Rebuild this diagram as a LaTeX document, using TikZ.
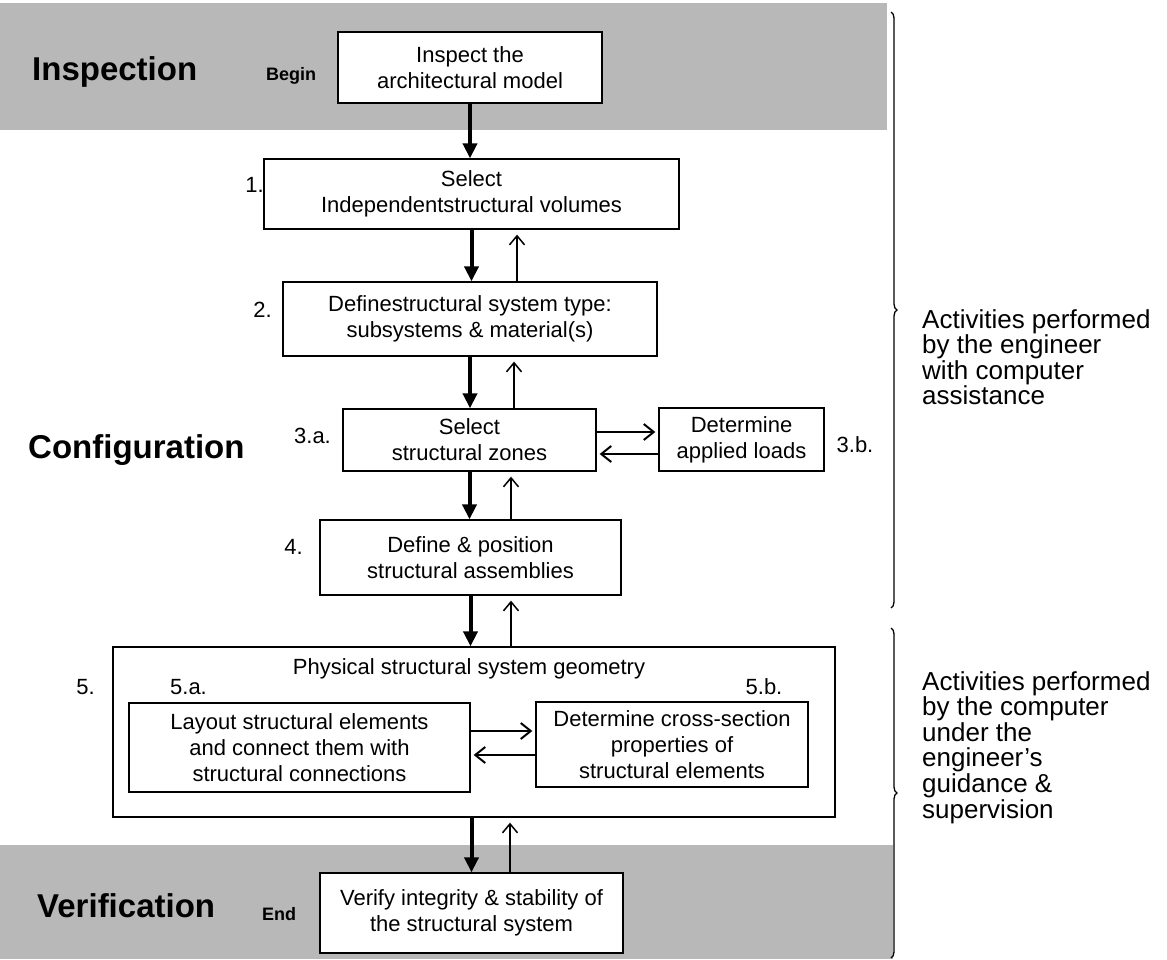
\documentclass[tikz,border=0pt]{standalone}
\usepackage{fontspec}
\setmainfont{Liberation Sans}
\usetikzlibrary{arrows.meta,decorations.pathreplacing}

\begin{document}
\begin{tikzpicture}[x=1pt,y=-1pt,
	stepbox/.style={draw, fill=white, line width=1.3pt, inner sep=2pt, align=center, font=\fontsize{22}{26}\selectfont},
	numlbl/.style={font=\fontsize{22}{26}\selectfont, inner sep=0pt},
	phase/.style={font=\fontsize{33}{40}\selectfont\bfseries, inner sep=0pt, anchor=base west},
	endpt/.style={font=\fontsize{18}{20}\selectfont\bfseries, inner sep=0pt, anchor=base west},
	note/.style={font=\fontsize{26}{25.6}\selectfont, align=left, inner sep=0pt, anchor=north west},
	fwd/.style={line width=4pt, -{Triangle[length=15pt,width=14pt]}},
	back/.style={line width=1.5pt, -{Straight Barb[length=9pt,width=15pt]}, shorten >=5pt},
	side/.style={line width=2pt, -{Straight Barb[length=10pt,width=16pt]}, shorten >=3pt},
	band/.style={fill=black!28},
	bracket/.style={line width=1.3pt, decorate, decoration={brace, amplitude=6pt}}]
	\useasboundingbox (0,0) rectangle (1167,959);
	% shaded phases
	\fill[band] (0,3) rectangle (887,130);
	\fill[band] (0,845) rectangle (893,959);

	\node[phase] (insphase) at (32,80) {Inspection};
	\node[phase] (confphase) at (28,458) {Configuration};
	\node[phase] (verphase) at (37,917) {Verification};
	\node[endpt] (begin) at (266,80) {Begin};
	\node[endpt] (end) at (262,920) {End};

	% steps
	\node[stepbox, minimum width=264pt, minimum height=71pt] (insp) at (470,67.5) {Inspect the\\architectural model};
	\node[stepbox, minimum width=415pt, minimum height=70pt] (sel1) at (471.5,194) {Select\\Independentstructural volumes};
	\node[stepbox, minimum width=374pt, minimum height=74pt] (def2) at (470,319) {Definestructural system type:\\subsystems \& material(s)};
	\node[stepbox, minimum width=253pt, minimum height=62pt] (zone3) at (469.5,440) {Select\\structural zones};
	\node[stepbox, minimum width=165pt, minimum height=63pt] (load3) at (741.5,439.5) {Determine\\applied loads};
	\node[stepbox, minimum width=301pt, minimum height=75pt] (asm4) at (470.5,557.5) {Define \& position\\structural assemblies};
	\node[stepbox, minimum width=722pt, minimum height=170pt] (geo5) at (474,732) {};
	\node[numlbl] (geotitle) at (469,669) {Physical structural system geometry};
	\node[stepbox, minimum width=341pt, minimum height=89pt] (lay5a) at (299.5,747.5) {Layout structural elements\\and connect them with\\structural connections};
	\node[stepbox, minimum width=272pt, minimum height=85pt] (sec5b) at (672,744.5) {Determine cross-section\\properties of\\structural elements};
	\node[stepbox, minimum width=303pt, minimum height=80pt] (ver) at (471.5,913) {Verify integrity \& stability of\\the structural system};

	% step numbers
	\node[numlbl] (n1) at (254.5,185) {1.};
	\node[numlbl] (n2) at (262.5,310) {2.};
	\node[numlbl] (n3a) at (312.5,436) {3.a.};
	\node[numlbl] (n3b) at (855,445) {3.b.};
	\node[numlbl] (n4) at (293.5,547) {4.};
	\node[numlbl] (n5) at (85.5,687) {5.};
	\node[numlbl] (n5a) at (188.5,687) {5.a.};
	\node[numlbl] (n5b) at (764,687) {5.b.};

	% forward flow
	\draw[fwd] (insp.south) -- (insp.south |- sel1.north);
	\draw[fwd] (sel1.south) -- (sel1.south |- def2.north);
	\draw[fwd] (def2.south) -- (def2.south |- zone3.north);
	\draw[fwd] (zone3.south) -- (zone3.south |- asm4.north);
	\draw[fwd] (asm4.south) -- (asm4.south |- geo5.north);
	\draw[fwd] (ver.north |- geo5.south) -- (ver.north);

	% feedback
	\draw[back] ([xshift=47pt]def2.north) -- ([xshift=47pt]def2.north |- sel1.south);
	\draw[back] ([xshift=44.5pt]zone3.north) -- ([xshift=44.5pt]zone3.north |- def2.south);
	\draw[back] ([xshift=40.5pt]asm4.north) -- ([xshift=40.5pt]asm4.north |- zone3.south);
	\draw[back] ([xshift=37pt]geo5.north) -- ([xshift=37pt]geo5.north |- asm4.south);
	\draw[back] ([xshift=38.5pt]ver.north) -- ([xshift=38.5pt]ver.north |- geo5.south);

	\draw[side] ([yshift=8pt]zone3.east) -- ([yshift=8pt]zone3.east -| load3.west);
	\draw[side] ([yshift=-14.5pt]load3.west) -- ([yshift=-14.5pt]load3.west -| zone3.east);
	\draw[side] ([yshift=16.5pt]lay5a.east) -- ([yshift=16.5pt]lay5a.east -| sec5b.west);
	\draw[side] ([yshift=-10.5pt]sec5b.west) -- ([yshift=-10.5pt]sec5b.west -| lay5a.east);

	% who does what
	\draw[bracket] (891,12) -- (891,608);
	\draw[bracket] (891,628) -- (891,958);
	\node[note] (engnote) at (922,309) {Activities performed\\by the engineer\\with computer\\assistance};
	\node[note] (compnote) at (922,671) {Activities performed\\by the computer\\under the\\engineer’s\\guidance \&\\supervision};
\end{tikzpicture}
\end{document}
